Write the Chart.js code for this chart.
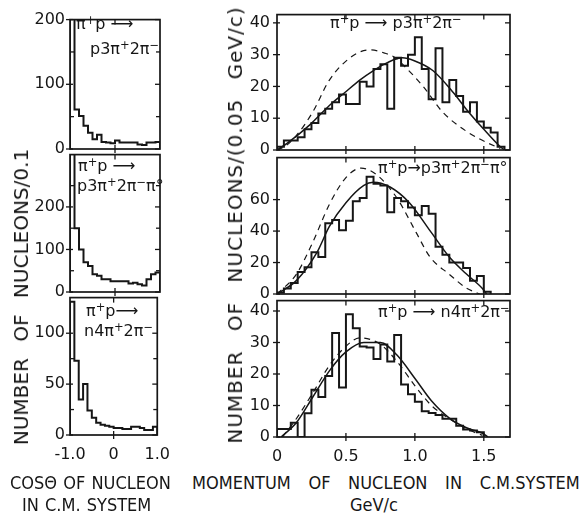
<!DOCTYPE html>
<html>
<head>
<meta charset="utf-8">
<script src="https://cdn.jsdelivr.net/npm/chart.js@4.4.1/dist/chart.umd.min.js"></script>
<style>
html, body { margin: 0; padding: 0; background: #fff; }
#fig { position: relative; width: 582px; height: 516px; overflow: hidden;
       font-family: "DejaVu Sans", sans-serif; color: #161616; background: #fff; }
#fig canvas { position: absolute; }
.t { position: absolute; white-space: nowrap; line-height: 1; }
.lab { font-size: 16px; }
.ttl { font-family: "DejaVu Sans Condensed", "DejaVu Sans", sans-serif; font-size: 18px; }
.rot { transform: translate(-50%, -50%) rotate(-90deg); font-size: 20px; }
sup { font-size: 72%; vertical-align: 0.42em; line-height: 0; }
</style>
</head>
<body>
<div id="fig">
  <canvas id="cL1"></canvas>
  <canvas id="cL2"></canvas>
  <canvas id="cL3"></canvas>
  <canvas id="cR1"></canvas>
  <canvas id="cR2"></canvas>
  <canvas id="cR3"></canvas>

  <div class="t rot" style="left:21px; top:297px; word-spacing:10px;">NUMBER OF NUCLEONS/0.1</div>
  <div class="t rot" style="left:235px; top:225px; word-spacing:12px; letter-spacing:1px;">NUMBER OF NUCLEONS/(0.05 GeV/c)</div>

  <div class="t lab" style="left:76px; top:16px;">π<sup>+</sup>p ⟶</div>
  <div class="t lab" style="left:90px; top:41px;">p3π<sup>+</sup>2π<sup>−</sup></div>
  <div class="t lab" style="left:78px; top:158px;">π<sup>+</sup>p ⟶</div>
  <div class="t lab" style="left:77px; top:178px;">p3π<sup>+</sup>2π<sup>−</sup>π°</div>
  <div class="t lab" style="left:86px; top:303px;">π<sup>+</sup>p⟶</div>
  <div class="t lab" style="left:84px; top:323px;">n4π<sup>+</sup>2π<sup>−</sup></div>

  <div class="t lab" style="left:330px; top:15px;">π<sup>+</sup>p ⟶ p3π<sup>+</sup>2π<sup>−</sup></div>
  <div class="t lab" style="left:378px; top:160px;">π<sup>+</sup>p→p3π<sup>+</sup>2π<sup>−</sup>π°</div>
  <div class="t lab" style="left:378px; top:304px;">π<sup>+</sup>p ⟶ n4π<sup>+</sup>2π<sup>−</sup></div>

  <div class="t ttl" style="left:10px; top:474px; word-spacing:1px;">COSΘ OF NUCLEON</div>
  <div class="t ttl" style="left:22px; top:496px; word-spacing:1px;">IN C.M. SYSTEM</div>
  <div class="t ttl" style="left:192px; top:474px; word-spacing:12.5px;">MOMENTUM OF NUCLEON IN C.M.SYSTEM</div>
  <div class="t ttl" style="left:350px; top:496px;">GeV/c</div>
</div>

<script>
// ---- binning ----
const cosBins = [-1.0, -0.9, -0.8, -0.7, -0.6, -0.5, -0.4, -0.3, -0.2, -0.1,
                 0.0, 0.1, 0.2, 0.3, 0.4, 0.5, 0.6, 0.7, 0.8, 0.9];
const cosBinWidth = 0.1;
const momBins = [0.00, 0.05, 0.10, 0.15, 0.20, 0.25, 0.30, 0.35, 0.40, 0.45,
                 0.50, 0.55, 0.60, 0.65, 0.70, 0.75, 0.80, 0.85, 0.90, 0.95,
                 1.00, 1.05, 1.10, 1.15, 1.20, 1.25, 1.30, 1.35, 1.40, 1.45,
                 1.50, 1.55, 1.60];
const momBinWidth = 0.05;

// ---- nucleon cos(theta) distributions, counts per 0.1 ----
const cosP3pi2pi      = [205, 61, 51, 36, 25, 15, 22, 11, 10, 9, 13, 10, 10, 10, 10, 7, 6, 10, 10, 11];
const cosP3pi2piPi0   = [330, 150, 100, 70, 61, 42, 38, 30, 30, 25, 25, 25, 25, 20, 22, 18, 15, 30, 42, 46];
const cosN4pi2pi      = [131, 73, 35, 50, 24, 17, 12, 10, 9, 8, 7, 7, 6, 6, 8, 8, 7, 5, 5, 8];

// ---- nucleon momentum distributions, counts per 0.05 GeV/c ----
const momP3pi2pi    = [1, 3, 3, 4, 6.5, 8.5, 11.5, 13, 15, 17.5, 14.5, 14.5, 21.5, 20, 25.5, 27,
                       13, 29, 26.5, 30, 35.5, 25.5, 16, 32, 15, 22, 17, 12, 15, 9, 7, 5.5, 1];
const momP3pi2piPi0 = [1, 3.5, 7, 14, 17, 26.5, 23.5, 45, 47, 40.5, 46.5, 59, 61, 74.5, 70, 69,
                       52, 61, 59, 55, 50, 56, 51, 30, 25, 20, 20, 16.5, 8.5, 11.5, 1.5];
const momN4pi2pi    = [2.5, 2.5, 4.5, 0, 7.5, 15, 12.7, 19.4, 33, 15.7, 39, 34.5, 28.7, 28.4, 24.8,
                       29.4, 24, 32.4, 16.7, 13.6, 11.2, 8.2, 7.6, 7, 5.8, 5.8, 3.6, 2.4, 2.1, 1.5];

// ---- model curves: [p (GeV/c), nucleons] ----
const solidP3pi2pi = [[0, 0], [0.07, 2], [0.24, 8], [0.38, 14], [0.49, 18], [0.60, 22], [0.70, 25],
                      [0.80, 27.5], [0.91, 29], [1.00, 28], [1.13, 25], [1.28, 18], [1.37, 13],
                      [1.49, 7], [1.62, 1], [1.65, 0]];
const dashP3pi2pi  = [[0, 0], [0.07, 1.5], [0.14, 4.5], [0.26, 12], [0.38, 22], [0.53, 29], [0.67, 31.5],
                      [0.78, 30.5], [0.86, 29], [0.91, 27], [1.06, 20], [1.20, 12], [1.37, 6],
                      [1.59, 1], [1.62, 0.5]];
const solidP3pi2piPi0 = [[0, 0], [0.14, 8.5], [0.29, 26.5], [0.38, 43], [0.50, 58], [0.63, 69],
                         [0.70, 71], [0.82, 68], [0.96, 58], [1.12, 39], [1.25, 23.5], [1.37, 13],
                         [1.49, 3.5], [1.52, 0]];
const dashP3pi2piPi0  = [[0, 0], [0.14, 12.5], [0.26, 33], [0.38, 57], [0.50, 74], [0.61, 80],
                         [0.72, 76], [0.87, 61], [1.01, 39], [1.11, 23.5], [1.25, 12.5], [1.37, 4],
                         [1.47, 0]];
const solidN4pi2pi = [[0.03, 0], [0.14, 4.5], [0.26, 12.7], [0.38, 21], [0.50, 27], [0.63, 30],
                      [0.75, 30], [0.87, 26], [1.01, 18], [1.12, 11.5], [1.25, 6], [1.37, 3],
                      [1.49, 1.2], [1.53, 0]];
const dashN4pi2pi  = [[0.04, 0], [0.14, 5.8], [0.26, 14], [0.38, 22.7], [0.50, 28.8], [0.60, 31.5],
                      [0.75, 29.4], [0.87, 24], [1.01, 15.7], [1.12, 10], [1.25, 5.8], [1.37, 2.7],
                      [1.49, 0.5]];

// ---- axis ticks ----
const cosTicks = [-1, 0, 1];
const cosTickLabels = ['-1.0', '0', '1.0'];
const momTicks = [0, 0.5, 1.0, 1.5];
const momTickLabels = ['0', '0.5', '1.0', '1.5'];
const yTicksL1 = [0, 100, 200], yMinorL1 = [50, 150];
const yTicksL2 = [0, 100, 200], yMinorL2 = [50, 150, 250];
const yTicksL3 = [0, 50, 100],  yMinorL3 = [25, 75];
const yTicksR1 = [0, 10, 20, 30, 40];
const yTicksR2 = [0, 20, 40, 60];
const yTicksR3 = [0, 10, 20, 30, 40];

const INK = '#161616';
const FONT = { family: '"DejaVu Sans", sans-serif', size: 16 };

// outline histogram as a stepped polyline through the bin edges
function histPoints(lows, counts, width) {
  const pts = [{ x: lows[0], y: 0 }];
  counts.forEach((c, i) => pts.push({ x: lows[i], y: c }));
  pts.push({ x: lows[counts.length - 1] + width, y: counts[counts.length - 1] });
  pts.push({ x: lows[counts.length - 1] + width, y: 0 });
  return pts;
}
const curvePoints = arr => arr.map(([x, y]) => ({ x, y }));

function histSet(lows, counts, width) {
  return { data: histPoints(lows, counts, width), stepped: 'before', borderColor: INK,
           borderWidth: 2, pointRadius: 0, fill: false, tension: 0 };
}
function curveSet(arr, dashed) {
  return { data: curvePoints(arr), borderColor: INK, borderWidth: dashed ? 1.2 : 1.5,
           borderDash: dashed ? [6, 5] : [], pointRadius: 0, fill: false,
           cubicInterpolationMode: 'monotone' };
}

// frame around the plot area with small tick marks on all four sides
const frame = {
  id: 'frame',
  afterDatasetsDraw(chart, args, o) {
    const { ctx, chartArea: a, scales: { x, y } } = chart;
    const seg = (x1, y1, x2, y2) => { ctx.beginPath(); ctx.moveTo(x1, y1); ctx.lineTo(x2, y2); ctx.stroke(); };
    ctx.save();
    ctx.strokeStyle = INK;
    ctx.lineWidth = 1.7;
    ctx.strokeRect(a.left, a.top, a.right - a.left, a.bottom - a.top);
    ctx.lineWidth = 1.3;
    o.yTicks.forEach(v => {
      const py = y.getPixelForValue(v);
      seg(a.left - 4, py, a.left + 3, py);
      seg(a.right - 5, py, a.right, py);
    });
    (o.yMinor || []).forEach(v => {
      const py = y.getPixelForValue(v);
      seg(a.left, py, a.left + 4, py);
      seg(a.right - 4, py, a.right, py);
    });
    o.xTicks.forEach(v => {
      const px = x.getPixelForValue(v);
      if (px > a.left + 1 && px < a.right - 1) {
        seg(px, a.bottom - 4, px, a.bottom + 4);
        seg(px, a.top, px, a.top + 5);
      }
    });
    ctx.restore();
  }
};

const AXW = 62, PADT = 10, PADR = 20, AXH = 30;

function panel(id, box, xr, yr, datasets, labelGap) {
  const cv = document.getElementById(id);
  cv.width = box.r - box.l + AXW + PADR;
  cv.height = box.b - box.t + PADT + AXH;
  cv.style.left = (box.l - AXW) + 'px';
  cv.style.top = (box.t - PADT) + 'px';
  return new Chart(cv, {
    type: 'line',
    data: { datasets },
    plugins: [frame],
    options: {
      responsive: false, maintainAspectRatio: false, devicePixelRatio: 1, animation: false,
      layout: { padding: { left: 0, top: PADT, right: PADR, bottom: 0 } },
      plugins: { legend: { display: false }, tooltip: { enabled: false },
                 frame: { xTicks: xr.ticks, yTicks: yr.ticks, yMinor: yr.minor } },
      scales: {
        x: {
          type: 'linear', min: xr.min, max: xr.max,
          afterFit: s => { s.height = AXH; },
          afterBuildTicks: s => { s.ticks = xr.ticks.map(v => ({ value: v })); },
          grid: { display: false, drawTicks: false }, border: { display: false },
          ticks: { display: !!xr.labels, autoSkip: false, maxRotation: 0, padding: 10,
                   color: INK, font: FONT,
                   callback: v => xr.labels ? xr.labels[xr.ticks.indexOf(v)] : '' }
        },
        y: {
          type: 'linear', min: 0, max: yr.max,
          afterFit: s => { s.width = AXW; },
          afterBuildTicks: s => { s.ticks = yr.ticks.map(v => ({ value: v })); },
          grid: { display: false, drawTicks: false }, border: { display: false },
          ticks: { padding: labelGap, color: INK, font: FONT, callback: v => String(v) }
        }
      }
    }
  });
}

const cosX = { min: -1, max: 1, ticks: cosTicks };
const cosXLab = { min: -1, max: 1, ticks: cosTicks, labels: cosTickLabels };
const momX = { min: 0, max: 1.69, ticks: momTicks };
const momXLab = { min: 0, max: 1.69, ticks: momTicks, labels: momTickLabels };

panel('cL1', { l: 70, t: 15, r: 160, b: 149 }, cosX, { max: 200, ticks: yTicksL1, minor: yMinorL1 },
      [histSet(cosBins, cosP3pi2pi, cosBinWidth)], 5);
panel('cL2', { l: 70, t: 150, r: 160, b: 292 }, cosX, { max: 323, ticks: yTicksL2, minor: yMinorL2 },
      [histSet(cosBins, cosP3pi2piPi0, cosBinWidth)], 5);
panel('cL3', { l: 70, t: 293, r: 160, b: 435 }, cosXLab, { max: 135, ticks: yTicksL3, minor: yMinorL3 },
      [histSet(cosBins, cosN4pi2pi, cosBinWidth)], 5);

panel('cR1', { l: 277, t: 8, r: 510, b: 150 }, momX, { max: 42.6, ticks: yTicksR1 },
      [histSet(momBins, momP3pi2pi, momBinWidth), curveSet(solidP3pi2pi, false), curveSet(dashP3pi2pi, true)], 7);
panel('cR2', { l: 277, t: 151, r: 510, b: 294 }, momX, { max: 86.7, ticks: yTicksR2 },
      [histSet(momBins, momP3pi2piPi0, momBinWidth), curveSet(solidP3pi2piPi0, false), curveSet(dashP3pi2piPi0, true)], 7);
panel('cR3', { l: 277, t: 294, r: 510, b: 437 }, momXLab, { max: 43.3, ticks: yTicksR3 },
      [histSet(momBins, momN4pi2pi, momBinWidth), curveSet(solidN4pi2pi, false), curveSet(dashN4pi2pi, true)], 7);
</script>
</body>
</html>
